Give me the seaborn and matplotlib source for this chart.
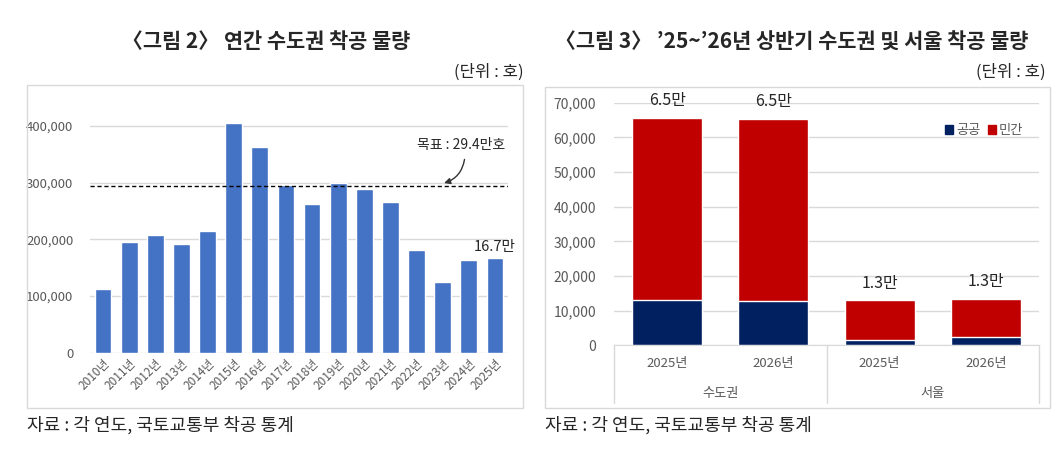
import numpy as np
import pandas as pd
import matplotlib.pyplot as plt
import seaborn as sns
from matplotlib.patches import Rectangle, Patch
from matplotlib.transforms import blended_transform_factory
from matplotlib.ticker import FuncFormatter

# 그림 2: yearly starts (호)
years = ["2010년", "2011년", "2012년", "2013년", "2014년", "2015년", "2016년", "2017년",
         "2018년", "2019년", "2020년", "2021년", "2022년", "2023년", "2024년", "2025년"]
starts = [112000, 195000, 207500, 192500, 214000, 406000, 363000, 296500,
          262500, 299500, 289500, 265500, 182000, 125500, 163000, 167000]
target = 294000

# 그림 3: first-half starts, 공공 / 민간
half_years = ["2025년", "2026년", "2025년", "2026년"]
regions = ["수도권", "수도권", "서울", "서울"]
public = [13100, 12800, 1450, 2400]
private = [52600, 52500, 11550, 11000]
total_labels = ["6.5만", "6.5만", "1.3만", "1.3만"]

sns.set_style("white")
plt.rcParams['font.family'] = ['Noto Sans CJK KR', 'DejaVu Sans']

W, H = 1057, 450
fig = plt.figure(figsize=(W / 100, H / 100), dpi=100)


def px(x, y):
    return x / W, 1 - y / H


grid_c = "#D9D9D9"
tick_c = "#595959"

# frames
fig.patches.append(Rectangle(px(27, 408), 496 / W, 323 / H, transform=fig.transFigure,
                             fill=False, edgecolor=grid_c, lw=1))
fig.patches.append(Rectangle(px(545, 408), 505 / W, 321 / H, transform=fig.transFigure,
                             fill=False, edgecolor=grid_c, lw=1))

# titles / units / sources
fig.text(*px(266, 42), "〈그림 2〉 연간 수도권 착공 물량", ha="center", va="center",
         fontsize=15, fontweight="bold")
fig.text(*px(792, 42), "〈그림 3〉 ’25~’26년 상반기 수도권 및 서울 착공 물량", ha="center",
         va="center", fontsize=15, fontweight="bold")
fig.text(*px(524, 72), "(단위 : 호)", ha="right", va="center", fontsize=12)
fig.text(*px(1046, 72), "(단위 : 호)", ha="right", va="center", fontsize=12)
fig.text(*px(27, 425), "자료 : 각 연도, 국토교통부 착공 통계", ha="left", va="center", fontsize=13)
fig.text(*px(545, 425), "자료 : 각 연도, 국토교통부 착공 통계", ha="left", va="center", fontsize=13)

comma = FuncFormatter(lambda v, p: f"{int(v):,}")

# ---- left chart ----
ax1 = fig.add_axes([90 / W, 1 - 352.7 / H, 418 / W, 238 / H])
df1 = pd.DataFrame({"year": years, "starts": starts})
sns.barplot(data=df1, x="year", y="starts", color="#4472C4", saturation=1, width=0.64, ax=ax1)
ax1.set_ylim(0, 420000)
ax1.set_xlim(-0.5, len(years) - 0.5)
ax1.set_yticks([0, 100000, 200000, 300000, 400000])
ax1.yaxis.set_major_formatter(comma)
ax1.grid(axis="y", color=grid_c, lw=1)
ax1.set_axisbelow(True)
for s in ax1.spines.values():
    s.set_visible(False)
ax1.set_xlabel("")
ax1.set_ylabel("")
ax1.tick_params(axis="y", length=0, pad=12, labelsize=9.5, labelcolor=tick_c)
ax1.tick_params(axis="x", length=0, pad=3, labelsize=8.5, labelcolor=tick_c)
plt.setp(ax1.get_xticklabels(), rotation=45, ha="right", rotation_mode="anchor")
ax1.axhline(target, color="black", ls=(0, (3, 2)), lw=1)
ax1.text(13.7, 366000, "목표 : 29.4만호", ha="center", va="center", fontsize=10)
ax1.annotate("", xy=(12.95, 298000), xytext=(13.85, 346000),
             arrowprops=dict(arrowstyle="-|>", color="#333333", lw=1,
                             connectionstyle="arc3,rad=-0.35", mutation_scale=9))
ax1.text(15, starts[-1] + 8000, "16.7만", ha="center", va="bottom", fontsize=10.5)

# ---- right chart ----
ax2 = fig.add_axes([614 / W, 1 - 345.3 / H, 425 / W, 242.6 / H])
totals = [a + b for a, b in zip(public, private)]
df2 = pd.DataFrame({"pos": [f"{r}{y}" for r, y in zip(regions, half_years)],
                    "public": public, "total": totals})
sns.barplot(data=df2, x="pos", y="total", color="#C00000", saturation=1, width=0.66,
            ax=ax2, label="민간")
sns.barplot(data=df2, x="pos", y="public", color="#002060", saturation=1, width=0.66,
            ax=ax2, label="공공")
ax2.set_ylim(0, 70000)
ax2.set_xlim(-0.5, 3.5)
ax2.set_yticks(np.arange(0, 70001, 10000))
ax2.yaxis.set_major_formatter(comma)
ax2.grid(axis="y", color=grid_c, lw=1)
ax2.set_axisbelow(True)
for s in ax2.spines.values():
    s.set_visible(False)
ax2.spines["bottom"].set_visible(True)
ax2.spines["bottom"].set_color(grid_c)
ax2.set_xlabel("")
ax2.set_ylabel("")
ax2.set_xticks([])
ax2.tick_params(axis="y", length=0, pad=13, labelsize=10, labelcolor=tick_c)

for i, (t, lab) in enumerate(zip(totals, total_labels)):
    ax2.text(i, t + 2500, lab, ha="center", va="bottom", fontsize=11.5, clip_on=False)

tr = blended_transform_factory(ax2.transData, ax2.transAxes)
ah = 242.6
for i, y in enumerate(half_years):
    ax2.text(i, -18 / ah, y, transform=tr, ha="center", va="center", fontsize=9.5, color=tick_c)
for cx, r in [(0.5, "수도권"), (2.5, "서울")]:
    ax2.text(cx, -48 / ah, r, transform=tr, ha="center", va="center", fontsize=9.5, color=tick_c)
for xv in [-0.5, 1.5, 3.5]:
    ax2.plot([xv, xv], [0, -58 / ah], transform=tr, color=grid_c, lw=1, clip_on=False)

handles = [Patch(color="#002060", label="공공"), Patch(color="#C00000", label="민간")]
ax2.legend(handles=handles, loc="upper right", bbox_to_anchor=(0.99, 0.96), ncol=2,
           frameon=False, fontsize=9.5, handlelength=0.6, handleheight=0.6,
           handletextpad=0.2, columnspacing=0.6, labelcolor=tick_c)

fig.savefig("out.png", dpi=100)
